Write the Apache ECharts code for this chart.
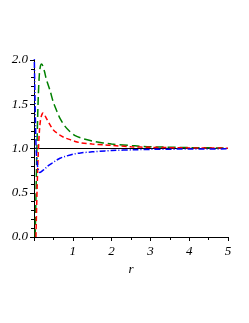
<!DOCTYPE html>
<html><head><meta charset="utf-8">
<script src="https://cdn.jsdelivr.net/npm/echarts@6/dist/echarts.min.js"></script>
<style>html,body{margin:0;padding:0;background:#fff}#c{width:249px;height:323px}</style>
</head><body><div id="c"></div>
<script>
var rGreen = [0.03,0.05,0.08,0.11,0.14,0.17,0.2,0.23,0.27,0.32,0.41,0.5,0.6,0.67,0.8,0.93,1.06,1.2,1.5,1.83,2.0,2.6,3.0,4.0,5.0];
var vGreen = [0,0.45,1.1,1.58,1.85,1.94,1.955,1.93,1.87,1.78,1.66,1.52,1.41,1.34,1.25,1.19,1.145,1.12,1.085,1.06,1.05,1.03,1.02,1.01,1.006];
var rRed = [0.05,0.08,0.11,0.14,0.17,0.2,0.23,0.27,0.32,0.41,0.5,0.67,0.8,0.93,1.06,1.2,1.5,1.83,2.0,2.5,3.0,4.0,5.0];
var vRed = [0,0.55,0.95,1.2,1.33,1.38,1.4,1.38,1.34,1.27,1.21,1.15,1.12,1.1,1.08,1.065,1.05,1.04,1.035,1.02,1.013,1.007,1.004];
var rBlue = [0.005,0.02,0.04,0.06,0.09,0.12,0.15,0.18,0.22,0.28,0.35,0.45,0.55,0.67,0.8,1.0,1.2,1.5,1.83,2.0,2.6,3.0,4.0,5.0];
var vBlue = [2.1,1.7,1.25,0.95,0.8,0.75,0.73,0.735,0.75,0.77,0.8,0.83,0.86,0.89,0.91,0.935,0.95,0.962,0.973,0.977,0.986,0.99,0.994,0.996];
var rRef = [0,5];
var vRef = [1,1];
var xTicks = [0,1,2,3,4,5];
var yTicks = [0.0,0.5,1.0,1.5,2.0];

function pairs(a,b){return a.map(function(v,i){return [v,b[i]];});}
var font = {fontFamily:'Liberation Serif',fontStyle:'italic',fontSize:13,color:'#000'};
var chart = echarts.init(document.getElementById('c'));
chart.setOption({
  animation:false,
  grid:{left:34,right:21,top:60,bottom:86,containLabel:false},
  xAxis:{type:'value',min:xTicks[0],max:xTicks[xTicks.length-1],interval:1,
    name:'r',nameLocation:'middle',nameGap:22,nameTextStyle:font,
    axisLine:{onZero:false,lineStyle:{color:'#000',width:1}},
    axisTick:{show:true,length:4,inside:false,lineStyle:{color:'#000'}},
    minorTick:{show:true,splitNumber:2,length:3,lineStyle:{color:'#000'}},
    splitLine:{show:false},
    axisLabel:Object.assign({showMinLabel:false,margin:8,formatter:function(v){return v===0?'':String(v);}},font)},
  yAxis:{type:'value',min:yTicks[0],max:yTicks[yTicks.length-1],interval:0.5,
    axisLine:{show:true,lineStyle:{color:'#000',width:1}},
    axisTick:{show:true,length:4,lineStyle:{color:'#000'}},
    minorTick:{show:true,splitNumber:5,length:3,lineStyle:{color:'#000'}},
    splitLine:{show:false},
    axisLabel:Object.assign({margin:6,formatter:function(v){return v.toFixed(1);}},font)},
  series:[
    {type:'line',data:pairs(rRef,vRef),symbol:'none',lineStyle:{color:'#000',width:1.2},z:1},
    {type:'line',data:pairs(rGreen,vGreen),symbol:'none',smooth:0.3,lineStyle:{color:'#008000',width:1.5,type:[8,4]}},
    {type:'line',data:pairs(rRed,vRed),symbol:'none',smooth:0.3,lineStyle:{color:'#ff0000',width:1.5,type:[5,3]}},
    {type:'line',data:pairs(rBlue,vBlue),symbol:'none',smooth:0.3,lineStyle:{color:'#0000ff',width:1.5,type:[6,2,1,2]}}
  ]
});
</script></body></html>
